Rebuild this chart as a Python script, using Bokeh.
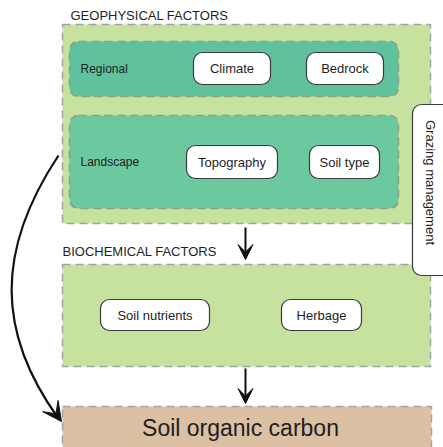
from bokeh.plotting import figure
from bokeh.models import Range1d, Arrow, VeeHead
from bokeh.core.properties import value
from bokeh.embed import file_html
from bokeh.resources import INLINE

FONT = "Liberation Sans"

# ---- content ----
section_titles = ["GEOPHYSICAL FACTORS", "BIOCHEMICAL FACTORS"]
scale_labels = ["Regional", "Landscape"]
factor_labels = ["Climate", "Bedrock", "Topography", "Soil type", "Soil nutrients", "Herbage"]
side_label = "Grazing management"
outcome_label = "Soil organic carbon"

# ---- layout (pixel coordinates, y downwards) ----
title_x = [70, 62]
title_y = [15, 251]

sec_left = [62, 62]
sec_right = [430, 430]
sec_top = [24, 264]
sec_bottom = [223, 366]

scale_left = [69, 69]
scale_right = [398, 398]
scale_top = [41, 115]
scale_bottom = [96, 208]
scale_fill = ["#5fc29c", "#6cc89f"]
scale_text_x = [80, 80]
scale_text_y = [68, 161]

fac_left = [193, 306, 186, 309, 100, 281]
fac_right = [270, 383, 277, 379, 209, 361]
fac_top = [52, 52, 145, 145, 299, 299]
fac_bottom = [84, 84, 178, 178, 330, 330]

p = figure(width=443, height=447, x_range=Range1d(0, 443), y_range=Range1d(447, 0),
           toolbar_location=None, output_backend="svg",
           x_axis_location=None, y_axis_location=None, min_border=0)
p.grid.visible = False
p.outline_line_color = None
p.background_fill_color = "white"

# section boxes
p.quad(left=sec_left, right=sec_right, top=sec_top, bottom=sec_bottom,
       fill_color="#c6e29e", line_color="#a3a3a3", line_width=1.5, line_dash="8 5")
# outcome box
p.quad(left=[62], right=[431], top=[406], bottom=[452],
       fill_color="#dbc0a4", line_color="#a3a3a3", line_width=1.5, line_dash="8 5")

# scale boxes
p.quad(left=scale_left, right=scale_right, top=scale_top, bottom=scale_bottom,
       fill_color=scale_fill, line_color="#8e9e84", line_width=1.5, line_dash="8 5",
       border_radius=9)

# factor boxes
fx = [(l + r) / 2 for l, r in zip(fac_left, fac_right)]
fy = [(t + b) / 2 for t, b in zip(fac_top, fac_bottom)]
p.quad(left=fac_left, right=fac_right, top=fac_top, bottom=fac_bottom,
       fill_color="white", line_color="#3a3a3a", line_width=1.2, border_radius=9)
p.text(x=fx, y=fy, text=factor_labels, text_font=value(FONT), text_font_size="13px",
       text_align="center", text_baseline="middle", text_color="#1e1e1e")

# grazing management box
p.quad(left=[412], right=[460], top=[104], bottom=[275],
       fill_color="white", line_color="#3a3a3a", line_width=1.2, border_radius=9)
p.text(x=[430], y=[182], text=[side_label], angle=-1.5708, text_font=value(FONT),
       text_font_size="13px", text_align="center", text_baseline="middle", text_color="#1e1e1e")

# titles
p.text(x=title_x, y=title_y, text=section_titles, text_font=value(FONT), text_font_size="13px",
       text_align="left", text_baseline="middle", text_color="#1e1e1e")
p.text(x=scale_text_x, y=scale_text_y, text=scale_labels, text_font=value(FONT),
       text_font_size="12px", text_align="left", text_baseline="middle", text_color="#1e1e1e")
p.text(x=[240], y=[427], text=[outcome_label], text_font=value(FONT), text_font_size="23px",
       text_align="center", text_baseline="middle", text_color="#1e1e1e")

# vertical arrows
for ys, ye in [(227, 259), (368, 403)]:
    p.add_layout(Arrow(end=VeeHead(size=15, fill_color="#111111", line_color="#111111"),
                       x_start=245, y_start=ys, x_end=245, y_end=ye,
                       line_width=2, line_color="#111111"))

# curved arrow
p.bezier(x0=[58], y0=[155], x1=[58], y1=[418], cx0=[-5], cy0=[250], cx1=[-4], cy1=[332],
         line_color="#111111", line_width=2.2)
p.add_layout(Arrow(end=VeeHead(size=19, fill_color="#111111", line_color="#111111"),
                   x_start=60.35, y_start=420.1, x_end=61, y_end=421,
                   line_width=0, line_alpha=0))

open("out.html", "w").write(file_html(p, INLINE))
